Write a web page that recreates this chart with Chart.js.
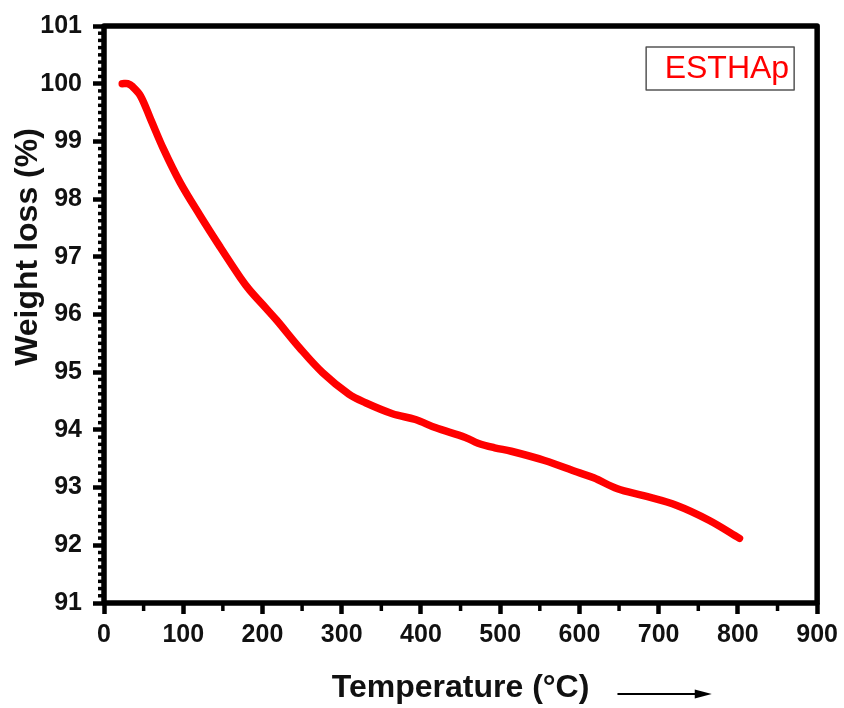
<!DOCTYPE html>
<html>
<head>
<meta charset="utf-8">
<script src="https://cdn.jsdelivr.net/npm/chart.js@4.4.0/dist/chart.umd.min.js"></script>
<style>
  html, body { margin: 0; padding: 0; background: #fff; }
  #wrap { width: 844px; height: 708px; }
</style>
</head>
<body>
<div id="wrap"><canvas id="tgaChart" width="844" height="708"></canvas></div>
<script>
// --- Data ---
const seriesLabel = 'ESTHAp';
const yTitle = 'Weight loss (%)';
const xTitle = 'Temperature (°C)';
const temps = [23, 30, 36, 46, 59, 75, 96, 121, 146, 172, 184, 205, 218, 247, 276, 309, 330, 364, 393, 418, 456, 472, 493, 514, 556, 597, 618, 648, 681, 723, 764, 802];
const weights = [100.0, 100.0, 99.95, 99.79, 99.38, 98.87, 98.29, 97.72, 97.18, 96.64, 96.42, 96.1, 95.9, 95.42, 94.99, 94.62, 94.47, 94.28, 94.18, 94.04, 93.87, 93.77, 93.69, 93.63, 93.47, 93.27, 93.17, 92.98, 92.86, 92.69, 92.43, 92.12];

const xMin = 0, xMax = 900, xStep = 100, xMinorStep = 50;
const yMin = 91, yMax = 101, yStep = 1, yMinorStep = 0.125;

const fontFamily = 'Arial, "Liberation Sans", sans-serif';
const tickFont = { family: fontFamily, size: 25, weight: 'bold' };
const titleFont = { family: fontFamily, size: 32, weight: 'bold' };

// frame, minor ticks, y title, legend box and the little arrow after the x title
const decorations = {
    id: 'decorations',
    afterDraw(chart) {
        const ctx = chart.ctx;
        const area = chart.chartArea;
        const xs = chart.scales.x;
        const ys = chart.scales.y;

        ctx.save();
        // minor ticks
        ctx.strokeStyle = '#000';
        ctx.lineWidth = 3.5;
        for (let v = xMin + xMinorStep; v < xMax; v += xStep) {
            const px = xs.getPixelForValue(v);
            ctx.beginPath();
            ctx.moveTo(px, area.bottom);
            ctx.lineTo(px, area.bottom + 8);
            ctx.stroke();
        }
        for (let v = yMin + yMinorStep; v < yMax - 1e-6; v += yMinorStep) {
            if (Math.abs(v - Math.round(v)) < 1e-6) continue;
            const py = ys.getPixelForValue(v);
            ctx.beginPath();
            ctx.moveTo(area.left, py);
            ctx.lineTo(area.left - 6, py);
            ctx.stroke();
        }

        // plot frame
        ctx.lineWidth = 5.5;
        ctx.lineJoin = 'round';
        ctx.strokeRect(area.left, area.top, area.right - area.left, area.bottom - area.top);

        // y axis title (sits above the axis middle in the original)
        ctx.save();
        ctx.translate(28, ys.getPixelForValue(97.17));
        ctx.rotate(-Math.PI / 2);
        ctx.fillStyle = '#111';
        ctx.font = `bold ${titleFont.size}px ${fontFamily}`;
        ctx.textAlign = 'center';
        ctx.textBaseline = 'middle';
        ctx.fillText(yTitle, 0, 0);
        ctx.restore();

        // legend box (top right)
        const boxW = 148, boxH = 43;
        const bx = area.right - 171, by = area.top + 21;
        ctx.lineWidth = 1.5;
        ctx.strokeStyle = '#555';
        ctx.strokeRect(bx, by, boxW, boxH);
        ctx.fillStyle = '#ff0000';
        ctx.font = `32px ${fontFamily}`;
        ctx.textAlign = 'right';
        ctx.textBaseline = 'middle';
        ctx.fillText(seriesLabel, bx + boxW - 5, by + boxH / 2 + 1);

        // arrow after the x title
        const ay = 694;
        const ax1 = xs.getPixelForValue(648), ax2 = xs.getPixelForValue(767);
        ctx.strokeStyle = '#000';
        ctx.fillStyle = '#000';
        ctx.lineWidth = 2;
        ctx.beginPath();
        ctx.moveTo(ax1, ay);
        ctx.lineTo(ax2 - 12, ay);
        ctx.stroke();
        ctx.beginPath();
        ctx.moveTo(ax2, ay);
        ctx.lineTo(ax2 - 17, ay - 4.5);
        ctx.lineTo(ax2 - 17, ay + 4.5);
        ctx.closePath();
        ctx.fill();
        ctx.restore();
    }
};

const ctx = document.getElementById('tgaChart').getContext('2d');

new Chart(ctx, {
    type: 'line',
    data: {
        datasets: [{
            label: seriesLabel,
            data: temps.map((t, i) => ({ x: t, y: weights[i] })),
            borderColor: '#ff0000',
            backgroundColor: '#ff0000',
            borderWidth: 7.5,
            borderCapStyle: 'round',
            borderJoinStyle: 'round',
            pointRadius: 0,
            tension: 0.35,
            fill: false
        }]
    },
    options: {
        responsive: false,
        animation: false,
        devicePixelRatio: 1,
        layout: { padding: { top: 23, right: 22, left: 0, bottom: 0 } },
        plugins: {
            legend: { display: false },
            tooltip: { enabled: false }
        },
        scales: {
            x: {
                type: 'linear',
                min: xMin,
                max: xMax,
                afterFit: (scale) => { scale.height = 105; },
                border: { display: false },
                grid: {
                    drawOnChartArea: false,
                    drawTicks: true,
                    tickLength: 11,
                    tickWidth: 4.5,
                    tickColor: '#000'
                },
                ticks: {
                    stepSize: xStep,
                    color: '#111',
                    font: tickFont,
                    padding: 6,
                    maxRotation: 0
                },
                title: {
                    display: true,
                    text: xTitle,
                    color: '#111',
                    font: titleFont,
                    padding: { top: 0, bottom: 1 }
                }
            },
            y: {
                type: 'linear',
                min: yMin,
                max: yMax,
                afterFit: (scale) => { scale.width = 104; },
                border: { display: false },
                grid: {
                    drawOnChartArea: false,
                    drawTicks: true,
                    tickLength: 11,
                    tickWidth: 4.5,
                    tickColor: '#000'
                },
                ticks: {
                    stepSize: yStep,
                    color: '#111',
                    font: tickFont,
                    padding: 11
                },
                title: { display: false }
            }
        }
    },
    plugins: [decorations]
});
</script>
</body>
</html>
